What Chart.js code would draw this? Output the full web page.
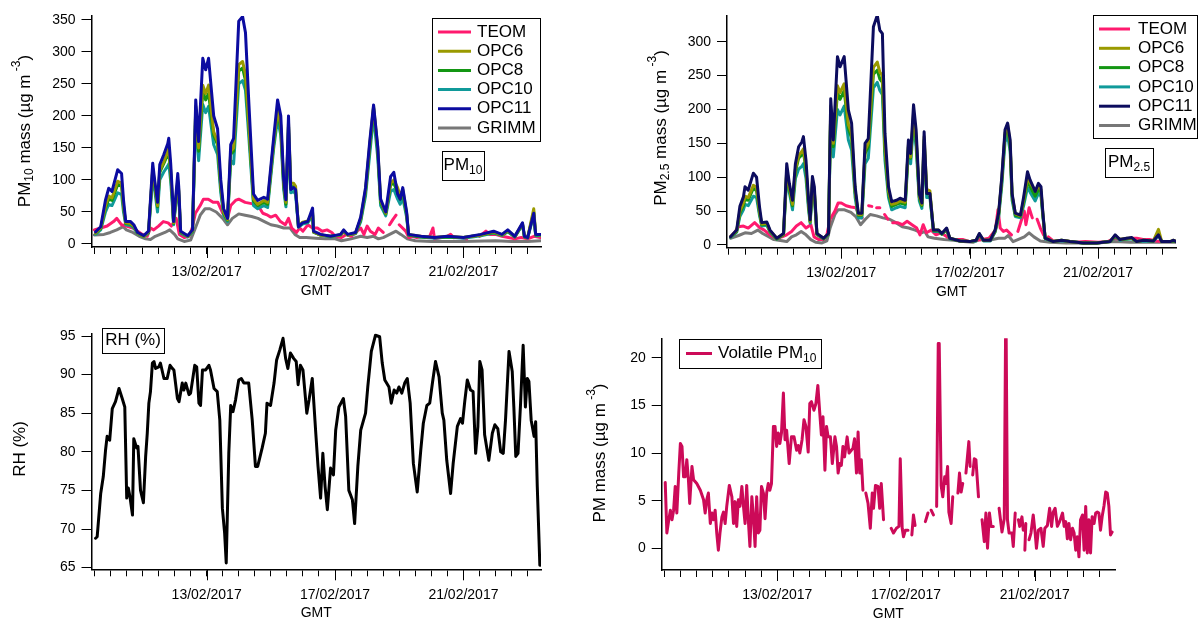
<!DOCTYPE html>
<html>
<head>
<meta charset="utf-8">
<script src="https://cdn.jsdelivr.net/npm/chart.js@4.4.0/dist/chart.umd.min.js"></script>
<style>
  html, body { margin: 0; padding: 0; background: #fff; }
  #wrap { position: relative; width: 1198px; height: 619px; overflow: hidden; }
  canvas { position: absolute; left: 0; top: 0; }
</style>
</head>
<body>
<div id="wrap">
  <canvas id="pm10" width="1198" height="619"></canvas>
  <canvas id="pm25" width="1198" height="619"></canvas>
  <canvas id="rh" width="1198" height="619"></canvas>
  <canvas id="vol" width="1198" height="619"></canvas>
</div>
<script>
'use strict';

// x values are days of February 2017 (GMT)
const dateTicks = [13, 17, 21];
const dateLabels = ['13/02/2017', '17/02/2017', '21/02/2017'];

const pm10Ticks = [0, 50, 100, 150, 200, 250, 300, 350];
const pm25Ticks = [0, 50, 100, 150, 200, 250, 300];
const rhTicks = [65, 70, 75, 80, 85, 90, 95];
const volTicks = [0, 5, 10, 15, 20];

// ---- PM10 ----
const pm10Time = [
  9.54, 9.70, 9.85, 9.95, 10.05, 10.23, 10.35, 10.41, 10.48, 10.63,
  10.73, 10.85, 11.04, 11.19, 11.32, 11.38, 11.47, 11.54, 11.66, 11.79,
  11.82, 11.88, 11.94, 11.97, 12.10, 12.13, 12.19, 12.41, 12.56, 12.66,
  12.75, 12.88, 12.97, 13.06, 13.22, 13.34, 13.44, 13.53, 13.65, 13.75,
  13.84, 14.00, 14.12, 14.21, 14.31, 14.46, 14.59, 14.78, 14.90, 15.09,
  15.21, 15.31, 15.40, 15.47, 15.55, 15.62, 15.71, 15.77, 15.86, 15.99,
  16.15, 16.30, 16.33, 16.55, 16.86, 17.17, 17.27, 17.39, 17.64, 17.80,
  17.95, 18.08, 18.20, 18.33, 18.42, 18.58, 18.73, 18.83, 18.95, 19.03,
  19.11, 19.23, 19.29, 19.67, 20.10, 20.51, 21.00, 21.54, 21.94, 22.20,
  22.38, 22.60, 22.84, 22.90, 23.00, 23.19, 23.25, 23.40
];
const pm10Opc11 = [
  19, 27, 69, 87, 82, 116, 110, 69, 35, 35,
  30, 18, 13, 20, 126, 100, 65, 124, 139, 157,
  165, 126, 70, 35, 110, 90, 20, 13, 22, 225,
  160, 290, 272, 290, 200, 180, 100, 55, 40, 155,
  165, 348, 355, 330, 225, 78, 68, 73, 70, 167,
  225, 200, 100, 69, 200, 85, 88, 85, 27, 33,
  35, 56, 20, 15, 12, 15, 22, 15, 18, 42,
  88, 160, 217, 152, 70, 50, 105, 112, 78, 70,
  88, 50, 15, 12, 10, 12, 10, 15, 20, 15,
  22, 12, 33, 12, 10, 48, 15, 15
];
const pm10Opc6 = [
  17, 25, 60, 75, 72, 98, 95, 60, 33, 32,
  28, 17, 12, 19, 118, 95, 60, 115, 128, 145,
  150, 115, 65, 33, 100, 85, 19, 12, 21, 215,
  150, 248, 235, 248, 175, 160, 92, 50, 38, 145,
  150, 280, 285, 265, 190, 70, 62, 68, 65, 160,
  210, 185, 95, 65, 190, 95, 95, 90, 28, 34,
  36, 50, 19, 14, 12, 14, 21, 14, 17, 40,
  85, 155, 215, 150, 68, 48, 95, 100, 88, 75,
  85, 48, 15, 12, 10, 12, 10, 14, 19, 14,
  21, 12, 32, 12, 10, 55, 15, 14
];
const pm10Opc8 = [
  17, 24, 57, 70, 68, 93, 90, 58, 32, 31,
  27, 17, 12, 18, 115, 92, 58, 112, 125, 140,
  145, 110, 62, 32, 97, 82, 18, 12, 20, 210,
  145, 238, 225, 235, 170, 155, 88, 48, 37, 140,
  145, 270, 275, 255, 185, 67, 60, 65, 62, 157,
  205, 180, 92, 62, 185, 88, 90, 85, 27, 33,
  35, 48, 19, 14, 12, 14, 20, 14, 17, 38,
  82, 150, 212, 145, 65, 47, 92, 95, 80, 70,
  80, 46, 14, 11, 10, 11, 10, 14, 18, 14,
  20, 11, 31, 11, 10, 50, 14, 14
];
const pm10Opc10 = [
  15, 22, 50, 62, 60, 80, 77, 50, 30, 29,
  25, 16, 11, 17, 105, 85, 50, 100, 112, 122,
  125, 98, 55, 30, 90, 75, 17, 11, 19, 200,
  130, 218, 205, 215, 155, 140, 80, 45, 35, 130,
  125, 250, 255, 240, 170, 60, 55, 60, 57, 150,
  195, 170, 85, 58, 175, 80, 82, 78, 26, 31,
  33, 45, 18, 14, 11, 14, 20, 14, 16, 35,
  75, 140, 200, 135, 60, 44, 82, 85, 70, 62,
  72, 42, 14, 11, 9, 11, 9, 13, 17, 13,
  19, 11, 30, 11, 9, 45, 13, 13
];
const teom10Time = [
  9.50, 9.70, 9.90, 10.10, 10.20, 10.35, 10.50, 10.70, 10.85, 11.00,
  11.15, 11.25, 11.35, 11.50, 11.65, 11.80, 11.90, 12.05, 12.15, 12.30,
  12.45, 12.55, 12.65, 12.80, 12.90, 13.05, 13.20, 13.35, 13.50, 13.65,
  13.75, 13.90, 14.00, 14.20, 14.40, 14.60, 14.75, 14.90, 15.00, 15.15,
  15.30, 15.45, 15.55, 15.65, 15.80, 15.90, 16.00, 16.15, 16.30, 16.45,
  16.60, 16.75, 16.90, 17.00, 17.20, 17.35, 17.50, 17.65, 17.80, 17.90,
  18.00, 18.10, 18.25, 18.35, 18.50, 18.60, 18.70, 18.80, 18.90, 18.95,
  19.00, 19.20, 19.30, 19.40, 19.55, 19.70, 19.80, 19.95, 20.05, 20.10,
  20.30, 20.40, 20.50, 20.60, 20.70, 20.80, 20.90, 21.10, 21.30, 21.50,
  21.70, 21.80, 22.00, 22.20, 22.40, 22.60, 22.80, 23.00, 23.20, 23.40
];
const teom10 = [
  22, 25, 28, 35, 40, 30, 28, 25, 20, 15,
  12, 25, 22, 28, 35, 33, 28, 40, 15, 10,
  12, 25, 48, 60, 70, 70, 65, 65, 48, 40,
  60, 68, 70, 65, 63, 60, 48, 45, 42, 45,
  35, 30, 40, 25, 18, 25, 20, 30, 25, 25,
  20, 22, 18, 12, 10, 15, 12, 18, 25, 15,
  28, 20, 15, 25, 18, null, 30, 38, 45, null,
  30, 20, 10, 12, 10, 12, 10, 12, 25, 8,
  10, null, 12, 15, 10, null, 10, 8, null, 12,
  20, 15, 15, 12, 10, 8, 10, 8, 12, 10
];
const grimm10Time = [
  9.50, 9.80, 10.00, 10.20, 10.40, 10.50, 10.70, 10.90, 11.10, 11.25,
  11.40, 11.55, 11.70, 11.85, 12.00, 12.10, 12.30, 12.50, 12.65, 12.80,
  12.95, 13.10, 13.30, 13.50, 13.65, 13.80, 14.00, 14.20, 14.40, 14.60,
  14.80, 15.00, 15.20, 15.40, 15.60, 15.75, 15.90, 16.10, 16.40, 16.70,
  17.00, 17.20, 17.50, 17.80, 18.00, 18.20, 18.35, 18.50, 18.70, 18.90,
  19.05, 19.25, 19.50, 20.00, 21.00, 22.00, 22.50, 23.00, 23.40
];
const grimm10 = [
  14, 15, 18, 22, 27, 22, 18, 12, 8, 7,
  12, 15, 18, 22, 15, 8, 4, 6, 25, 45,
  55, 55, 50, 40, 30, 40, 47, 45, 43, 40,
  35, 30, 28, 25, 25, 15, 10, 10, 9, 8,
  8, 5, 8, 12, 10, 12, 8, 10, 15, 20,
  15, 8, 5, 4, 4, 5, 4, 4, 5
];

// ---- PM2.5 ----
const pm25Time = [
  9.55, 9.74, 9.84, 9.95, 10.00, 10.10, 10.26, 10.36, 10.45, 10.52,
  10.68, 10.78, 10.99, 11.20, 11.30, 11.38, 11.48, 11.57, 11.67, 11.77,
  11.82, 11.90, 11.98, 12.03, 12.10, 12.16, 12.24, 12.45, 12.60, 12.67,
  12.75, 12.88, 12.96, 13.09, 13.22, 13.32, 13.43, 13.53, 13.64, 13.74,
  13.84, 14.00, 14.12, 14.20, 14.28, 14.36, 14.47, 14.57, 14.72, 14.83,
  14.99, 15.09, 15.16, 15.25, 15.33, 15.43, 15.51, 15.58, 15.66, 15.76,
  15.87, 16.03, 16.13, 16.28, 16.38, 16.70, 17.00, 17.20, 17.30, 17.43,
  17.64, 17.79, 17.90, 18.00, 18.10, 18.18, 18.26, 18.32, 18.42, 18.58,
  18.68, 18.80, 18.88, 19.04, 19.14, 19.22, 19.28, 19.35, 19.60, 19.86,
  20.12, 20.54, 20.95, 21.37, 21.53, 21.68, 21.89, 22.05, 22.20, 22.41,
  22.72, 22.88, 22.98, 23.24, 23.35, 23.43
];
const pm25Opc11 = [
  12, 22, 57, 71, 86, 81, 106, 100, 57, 33,
  34, 22, 10, 17, 120, 91, 66, 120, 145, 152,
  160, 125, 66, 37, 101, 86, 17, 10, 17, 216,
  155, 278, 263, 278, 199, 180, 86, 47, 47, 150,
  157, 322, 339, 317, 312, 165, 86, 64, 66, 69,
  66, 155, 135, 207, 170, 75, 62, 167, 76, 76,
  22, 22, 17, 25, 10, 6, 5, 7, 17, 7,
  7, 22, 47, 101, 170, 180, 155, 76, 47, 44,
  71, 108, 96, 79, 91, 86, 47, 10, 5, 7,
  5, 3, 3, 5, 15, 8, 10, 11, 5, 7,
  6, 15, 5, 5, 7, 5
];
const pm25Opc6 = [
  12, 21, 50, 62, 72, 70, 88, 85, 50, 31,
  32, 21, 10, 16, 112, 86, 60, 112, 132, 138,
  142, 115, 60, 35, 95, 80, 16, 10, 16, 205,
  150, 235, 225, 238, 178, 165, 80, 45, 45, 140,
  150, 262, 270, 255, 250, 145, 80, 60, 62, 65,
  63, 148, 130, 195, 160, 72, 60, 160, 82, 80,
  22, 22, 17, 24, 10, 6, 5, 7, 16, 7,
  7, 21, 45, 98, 165, 178, 150, 74, 46, 43,
  66, 100, 92, 80, 86, 82, 45, 10, 5, 7,
  5, 3, 3, 5, 14, 8, 10, 10, 5, 7,
  6, 23, 5, 5, 7, 5
];
const pm25Opc8 = [
  12, 20, 47, 58, 68, 66, 84, 80, 48, 30,
  31, 20, 9, 15, 108, 83, 58, 108, 128, 133,
  138, 110, 58, 34, 92, 78, 16, 9, 16, 200,
  145, 225, 215, 228, 172, 158, 78, 44, 44, 135,
  145, 252, 258, 245, 240, 138, 76, 57, 60, 62,
  60, 145, 128, 190, 155, 70, 58, 155, 76, 75,
  21, 21, 16, 23, 10, 6, 5, 7, 15, 7,
  7, 20, 44, 95, 162, 172, 146, 72, 44, 42,
  63, 95, 86, 72, 82, 78, 44, 10, 5, 7,
  5, 3, 3, 5, 13, 8, 9, 10, 5, 7,
  6, 17, 5, 5, 6, 5
];
const pm25Opc10 = [
  11, 19, 42, 52, 60, 58, 72, 70, 44, 28,
  29, 19, 9, 15, 100, 78, 52, 98, 112, 116,
  120, 98, 52, 32, 85, 72, 15, 9, 15, 190,
  130, 200, 192, 205, 155, 140, 70, 40, 40, 120,
  128, 232, 240, 228, 222, 125, 70, 52, 55, 57,
  55, 138, 120, 180, 145, 65, 54, 148, 70, 70,
  20, 20, 16, 22, 9, 6, 5, 6, 15, 6,
  6, 19, 40, 88, 152, 162, 138, 66, 42, 40,
  58, 85, 78, 65, 76, 72, 42, 9, 5, 6,
  5, 3, 3, 5, 12, 7, 9, 9, 5, 6,
  5, 14, 5, 5, 6, 5
];
const teom25Time = [
  9.55, 9.70, 9.80, 9.95, 10.10, 10.30, 10.45, 10.60, 10.80, 11.00,
  11.15, 11.30, 11.45, 11.60, 11.75, 11.90, 12.05, 12.15, 12.30, 12.45,
  12.55, 12.65, 12.80, 12.90, 13.00, 13.15, 13.30, 13.45, 13.55, 13.65,
  13.75, 13.85, 13.95, 14.00, 14.10, 14.20, 14.25, 14.35, 14.45, 14.50,
  14.60, 14.75, 14.90, 15.05, 15.20, 15.35, 15.45, 15.55, 15.65, 15.80,
  15.95, 16.10, 16.30, 16.50, 16.80, 17.00, 17.20, 17.40, 17.60, 17.80,
  17.88, 17.95, 18.05, 18.15, 18.30, 18.40, 18.50, 18.60, 18.70, 18.75,
  18.85, 18.95, 19.05, 19.10, 19.20, 19.30, 19.40, 19.45, 19.60, 19.80,
  20.00, 20.30, 20.60, 21.00, 21.30, 21.50, 21.70, 22.00, 22.20, 22.40,
  22.60, 22.80, 23.00, 23.20, 23.43
];
const teom25 = [
  12, 20, 27, 28, 25, 33, 26, 22, 14, 10,
  12, 15, 20, 28, 33, 25, 30, 12, 8, 8,
  15, 38, 50, 62, 62, 58, 56, 55, 45, 40,
  null, 58, 57, null, 55, 55, null, 45, 38, null,
  33, 33, 30, 35, 30, 25, 15, 30, 18, 22,
  15, 18, 12, 8, 8, 5, 7, 8, 10, 22,
  52, 25, 20, 22, 15, null, 20, 35, 50, 30,
  55, 40, null, 38, 25, 15, null, 12, 6, 5,
  6, 4, 5, 4, 5, 10, 8, 10, 10, 8,
  8, 6, 5, 5, 5
];
const grimm25Time = [
  9.55, 9.80, 10.00, 10.20, 10.40, 10.55, 10.75, 10.90, 11.20, 11.30,
  11.45, 11.60, 11.75, 11.90, 12.05, 12.20, 12.40, 12.55, 12.65, 12.80,
  12.90, 13.10, 13.30, 13.45, 13.60, 13.75, 13.90, 14.10, 14.30, 14.50,
  14.70, 14.90, 15.10, 15.30, 15.50, 15.60, 15.70, 15.90, 16.20, 16.50,
  16.80, 17.10, 17.30, 17.60, 17.90, 18.10, 18.20, 18.35, 18.50, 18.70,
  18.85, 19.00, 19.20, 19.50, 20.00, 21.00, 21.50, 22.00, 23.00, 23.43
];
const grimm25 = [
  10, 14, 18, 17, 22, 17, 12, 8, 6, 5,
  12, 15, 20, 15, 8, 4, 3, 6, 25, 45,
  52, 52, 48, 42, 30, 38, 45, 43, 40, 38,
  33, 27, 25, 22, 18, 20, 12, 10, 8, 7,
  5, 4, 8, 7, 10, 10, 14, 5, 8, 12,
  18, 12, 6, 4, 3, 3, 5, 4, 4, 4
];

// ---- RH ----
const rhTime = [
  9.54, 9.59, 9.70, 9.78, 9.85, 9.90, 9.98, 10.06, 10.16, 10.27,
  10.37, 10.45, 10.51, 10.56, 10.61, 10.69, 10.73, 10.82, 10.86, 10.94,
  11.03, 11.10, 11.15, 11.20, 11.25, 11.31, 11.36, 11.41, 11.51, 11.56,
  11.67, 11.77, 11.86, 11.93, 11.98, 12.09, 12.14, 12.24, 12.29, 12.35,
  12.45, 12.50, 12.63, 12.69, 12.76, 12.81, 12.87, 12.97, 13.07, 13.12,
  13.23, 13.33, 13.41, 13.49, 13.56, 13.61, 13.69, 13.75, 13.82, 13.90,
  14.00, 14.08, 14.16, 14.31, 14.42, 14.52, 14.59, 14.73, 14.83, 14.88,
  14.99, 15.10, 15.18, 15.28, 15.38, 15.46, 15.53, 15.61, 15.71, 15.79,
  15.85, 15.92, 16.00, 16.12, 16.19, 16.29, 16.40, 16.47, 16.55, 16.62,
  16.69, 16.76, 16.86, 16.95, 17.02, 17.12, 17.26, 17.33, 17.43, 17.54,
  17.61, 17.71, 17.80, 17.95, 18.02, 18.13, 18.26, 18.39, 18.47, 18.55,
  18.68, 18.75, 18.84, 18.92, 18.99, 19.08, 19.17, 19.25, 19.34, 19.44,
  19.56, 19.67, 19.75, 19.86, 19.95, 20.04, 20.13, 20.24, 20.34, 20.39,
  20.48, 20.60, 20.68, 20.81, 20.91, 20.97, 21.04, 21.12, 21.22, 21.30,
  21.38, 21.45, 21.51, 21.58, 21.66, 21.79, 21.90, 21.98, 22.07, 22.16,
  22.24, 22.31, 22.42, 22.52, 22.57, 22.63, 22.70, 22.78, 22.86, 22.93,
  22.99, 23.04, 23.11, 23.20, 23.25, 23.30, 23.38
];
const rhValue = [
  68.8, 69, 74.6, 76.8, 80.2, 82, 81.5, 85.6, 86.5, 88.2,
  86.9, 85.8, 74, 75.3, 74.2, 71.8, 81.7, 80.5, 80.7, 75,
  73.4, 79.4, 82.4, 86.3, 87.8, 91.5, 91.7, 90.8, 91, 91.5,
  89.5, 89.5, 91.2, 90.8, 90.6, 86.9, 86.5, 88.9, 88, 88.9,
  87.4, 87.6, 91.2, 91, 86.3, 86, 90.6, 90.6, 91.2, 90.6,
  88.2, 87.8, 84.1, 72.7, 69.5, 65.6, 79.8, 86, 85.2, 86.7,
  89.3, 89.5, 88.9, 88.9, 84.1, 78.1, 78.1, 80.5, 82.4, 86.3,
  86, 88.9, 91.9, 93.2, 94.7, 92.1, 90.8, 92.8, 92.1, 91.7,
  88.7, 91.2, 90.6, 85, 86.7, 89.5, 82.4, 78.1, 74, 79.8,
  75.5, 72.5, 77.9, 77, 82.8, 85.8, 86.9, 84.6, 75, 73.8,
  70.7, 78.1, 82.8, 85, 88.4, 93, 95.1, 94.9, 91.5, 89.3,
  88.4, 86.3, 88, 87.6, 88.4, 87.6, 88.9, 89.5, 86.3, 78.5,
  74.8, 80.2, 83.7, 86, 86.3, 89.1, 91.7, 89.7, 85, 84.1,
  78.9, 74.6, 78.5, 83.3, 84.3, 83.7, 86.5, 89.3, 88, 87.8,
  79.8, 83.3, 91.7, 90.6, 82.2, 78.9, 82.4, 83.5, 83, 80,
  79.8, 84.1, 93, 90.4, 85.8, 79.4, 79.8, 86.3, 93.8, 85.8,
  89.5, 89.1, 84.1, 82, 83.9, 75.5, 65.3
];

// ---- Volatile PM10 ----
const volTime = [
  9.52, 9.57, 9.63, 9.68, 9.73, 9.78, 9.83, 9.88, 9.94, 9.99,
  10.04, 10.09, 10.14, 10.19, 10.24, 10.28, 10.35, 10.40, 10.50, 10.61,
  10.71, 10.76, 10.81, 10.86, 10.92, 10.97, 11.02, 11.07, 11.12, 11.17,
  11.22, 11.28, 11.33, 11.38, 11.43, 11.51, 11.59, 11.64, 11.69, 11.74,
  11.79, 11.84, 11.90, 11.95, 12.00, 12.05, 12.10, 12.15, 12.21, 12.26,
  12.31, 12.36, 12.41, 12.46, 12.51, 12.57, 12.62, 12.67, 12.72, 12.77,
  12.82, 12.88, 12.93, 12.98, 13.03, 13.08, 13.13, 13.19, 13.24, 13.29,
  13.37, 13.44, 13.52, 13.60, 13.65, 13.70, 13.77, 13.83, 13.89, 13.96,
  14.01, 14.06, 14.14, 14.20, 14.26, 14.32, 14.37, 14.42, 14.48, 14.53,
  14.58, 14.65, 14.71, 14.79, 14.84, 14.89, 14.94, 14.99, 15.04, 15.09,
  15.17, 15.23, 15.30, 15.35, 15.40, 15.46, 15.51, 15.56, 15.61, 15.66,
  15.70, 15.75, 15.82, 15.89, 15.95, 15.99, 16.05, 16.13, 16.18, 16.23,
  16.30, 16.42, 16.54, 16.61, 16.70, 16.78, 16.82, 16.88, 16.92, 16.98,
  17.06, 17.11, 17.18, 17.23, 17.28, 17.44, 17.60, 17.68, 17.73, 17.78,
  17.85, 17.90, 17.95, 18.00, 18.03, 18.09, 18.14, 18.20, 18.24, 18.29,
  18.33, 18.40, 18.45, 18.53, 18.61, 18.66, 18.71, 18.76, 18.81, 18.86,
  18.95, 18.99, 19.03, 19.07, 19.12, 19.17, 19.25, 19.30, 19.36, 19.43,
  19.48, 19.53, 19.59, 19.64, 19.71, 19.80, 19.89, 19.98, 20.05, 20.09,
  20.11, 20.15, 20.20, 20.29, 20.33, 20.39, 20.44, 20.49, 20.53, 20.60,
  20.64, 20.67, 20.69, 20.72, 20.77, 20.82, 20.88, 20.95, 21.01, 21.05,
  21.11, 21.19, 21.26, 21.31, 21.39, 21.46, 21.52, 21.57, 21.63, 21.70,
  21.77, 21.86, 21.91, 21.96, 22.01, 22.06, 22.11, 22.17, 22.22, 22.27,
  22.32, 22.37, 22.42, 22.48, 22.53, 22.58, 22.63, 22.68, 22.73, 22.78,
  22.84, 22.89, 22.94, 22.99, 23.04, 23.09, 23.15, 23.20, 23.25, 23.30,
  23.35, 23.40
];
const volValue = [
  6.9, 1.6, 3.0, 4.0, 3.0, 4.0, 6.5, 3.7, 7.9, 11.0,
  10.7, 7.5, 7.5, 9.3, 7.2, 4.7, 8.6, 7.2, 6.8, 6.1,
  5.1, 3.7, 5.1, 5.8, 2.6, 3.7, 3.0, 4.0, 1.6, -0.2,
  1.6, 3.3, 3.8, 2.6, 4.4, 6.6, 5.4, 2.6, 4.9, 2.3,
  5.1, 4.4, 6.5, 4.4, 2.6, 6.6, 3.0, 0.2, 5.4, 3.3,
  0.2, 5.4, 1.6, 1.9, 6.5, 5.8, 3.1, 5.8, 6.8, 6.1,
  6.8, 12.8, 12.8, 10.7, 12.1, 11.0, 12.1, 16.3, 11.4, 12.4,
  8.9, 11.7, 11.7, 10.3, 10.8, 10.0, 11.4, 13.5, 12.8, 10.1,
  15.2, 15.4, 14.5, 15.2, 17.1, 14.2, 11.9, 13.8, 8.2, 12.8,
  11.7, 11.7, 8.9, 11.7, 10.7, 7.9, 8.9, 8.7, 10.7, 9.6,
  11.7, 10.0, 10.3, 10.5, 11.5, 7.9, 12.2, 7.9, 9.3, 6.1,
  null, 5.8, 4.7, 2.1, 5.8, 4.2, 6.6, 6.5, 4.2, 6.8,
  3.0, null, 2.1, 1.6, 2.1, 2.3, 9.4, 2.1, 1.2, 1.9,
  1.9, null, 1.4, 3.5, 2.4, null, 2.8, 3.7, null, 4.0,
  3.5, null, 4.4, 21.5, 21.5, 6.6, 5.4, 7.5, 6.8, 8.6,
  3.8, 2.6, 5.4, null, 5.8, 7.9, 5.9, 6.8, null, 7.9,
  11.2, 8.6, null, 7.7, 9.4, 9.3, 5.4, null, 3.0, 0.7,
  3.7, 0.0, 3.7, 2.3, 2.3, null, 4.2, 1.7, 3.1, 22.0,
  22.0, 3.0, 1.6, 1.6, 0.2, 3.7, null, 3.0, 2.3, 3.3,
  1.9, null, -0.2, 2.6, null, 0.9, 1.6, 3.5, 1.6, 0.0,
  1.9, 2.1, 0.2, 2.1, 2.4, 4.2, 2.3, 3.8, 4.2, 2.3,
  2.8, 3.7, 2.3, 2.8, 1.0, 2.6, 0.9, 2.1, 1.6, -0.2,
  1.2, -0.9, 3.0, 3.5, -0.2, 4.4, -0.5, 3.0, -0.5, 3.3,
  2.6, 3.7, 3.8, 3.7, 1.9, 3.3, 4.5, 5.9, 5.8, 4.4,
  1.4, 1.7
];

const COLORS = {
  teom: '#ff1a6e', opc6: '#9a9a00', opc8: '#139613', opc10: '#109a9a',
  opc11: '#0b0ba0', opc11dark: '#0c0c5e', grimm: '#777777', rh: '#000000', vol: '#cc0a58'
};
const FONT = '"Liberation Sans", Arial, Helvetica, sans-serif';
Chart.defaults.font.family = FONT;
Chart.defaults.color = '#000';

const W = 1198, H = 619, Y_BOX = 70, X_BOX = 45;

let pts = (xs, ys) => xs.map((x, i) => ({x: x, y: ys[i] === undefined ? null : ys[i]}));

let line = (label, xs, ys, color, order) => ({
    label: label, data: pts(xs, ys), borderColor: color, backgroundColor: color,
    borderWidth: 3, pointRadius: 0, tension: 0, spanGaps: false, order: order,
    borderJoinStyle: 'round', borderCapStyle: 'round'
});

// text with sub/superscript runs, centred on (cx, cy)
function rich(ctx, parts, cx, cy, size, vertical, alignLeft) {
    let small = Math.round(size * 0.68);
    let total = 0;
    let runs = parts.map(([t, k]) => {
        ctx.font = (k ? small : size) + 'px ' + FONT;
        let w = ctx.measureText(t).width;
        total += w;
        return {t, k, w};
    });
    ctx.save();
    ctx.translate(cx, cy);
    if (vertical) ctx.rotate(-Math.PI / 2);
    ctx.fillStyle = '#000';
    ctx.textBaseline = 'middle';
    ctx.textAlign = 'left';
    let x = alignLeft ? 0 : -total / 2;
    for (let r of runs) {
        ctx.font = (r.k ? small : size) + 'px ' + FONT;
        let dy = r.k === 'sub' ? size * 0.3 : r.k === 'sup' ? -size * 0.5 : 0;
        ctx.fillText(r.t, x, dy);
        x += r.w;
    }
    ctx.restore();
}

function frame(ctx, x, y, w, h) {
    ctx.strokeStyle = '#000';
    ctx.lineWidth = 1;
    ctx.strokeRect(Math.round(x) + 0.5, Math.round(y) + 0.5, Math.round(w), Math.round(h));
}

function decor(cfg) {
    return {
        id: 'decor',
        afterDraw(chart) {
            let ctx = chart.ctx, xs = chart.scales.x, area = chart.chartArea;
            ctx.save();
            // longer ticks at labelled dates
            ctx.strokeStyle = '#000';
            ctx.lineWidth = 1;
            for (let v of dateTicks) {
                let px = Math.round(xs.getPixelForValue(v)) + 0.5;
                ctx.beginPath();
                ctx.moveTo(px, area.bottom);
                ctx.lineTo(px, area.bottom + 11);
                ctx.stroke();
            }
            rich(ctx, cfg.yTitle, cfg.yTitleX, cfg.yTitleY, 17, true);
            rich(ctx, [['GMT']], (area.left + area.right) / 2, area.bottom + 44, 14, false);

            if (cfg.legend) {
                let L = cfg.legend;
                ctx.fillStyle = '#fff';
                ctx.fillRect(L.x, L.y, L.w, L.h);
                frame(ctx, L.x, L.y, L.w, L.h);
                L.items.forEach((ds, i) => {
                    let y = L.row0 + i * L.dy;
                    ctx.strokeStyle = ds.borderColor;
                    ctx.lineWidth = 3;
                    ctx.beginPath();
                    ctx.moveTo(L.lx0, y);
                    ctx.lineTo(L.lx1, y);
                    ctx.stroke();
                    rich(ctx, ds.rich || [[ds.label]], L.tx, y, 17, false, true);
                });
            }
            if (cfg.tag) {
                let T = cfg.tag;
                ctx.fillStyle = '#fff';
                ctx.fillRect(T.x, T.y, T.w, T.h);
                frame(ctx, T.x, T.y, T.w, T.h);
                rich(ctx, T.text, T.x + T.w / 2, T.y + T.h / 2, 17, false);
            }
            ctx.restore();
        }
    };
}

function makeChart(id, box, datasets, yTicks, cfg) {
    let halfDays = [];
    for (let d = 9.5; d <= box.xmax; d += 0.5) halfDays.push(d);
    return new Chart(document.getElementById(id), {
        type: 'line',
        data: {datasets: datasets},
        options: {
            responsive: false,
            animation: false,
            devicePixelRatio: 1,
            layout: {
                autoPadding: false,
                padding: {left: box.left - Y_BOX, right: W - box.right, top: box.top, bottom: H - box.bottom - X_BOX}
            },
            plugins: {legend: {display: false}, tooltip: {enabled: false}},
            scales: {
                x: {
                    type: 'linear', min: box.xmin, max: box.xmax,
                    afterFit: (s) => { s.height = X_BOX; },
                    afterBuildTicks: (s) => { s.ticks = halfDays.map((v) => ({value: v})); },
                    grid: {display: true, drawOnChartArea: false, drawTicks: true, tickLength: 7, color: '#000', lineWidth: 1},
                    border: {display: true, color: '#000', width: 1.5},
                    ticks: {
                        autoSkip: false, maxRotation: 0, minRotation: 0, padding: 10,
                        font: {size: 14}, color: '#000',
                        callback: (v) => {
                            let i = dateTicks.indexOf(Math.round(v * 100) / 100);
                            return i >= 0 ? dateLabels[i] : '';
                        }
                    }
                },
                y: {
                    type: 'linear', min: box.ymin, max: box.ymax,
                    afterFit: (s) => { s.width = Y_BOX; },
                    afterBuildTicks: (s) => { s.ticks = yTicks.map((v) => ({value: v})); },
                    grid: {display: true, drawOnChartArea: false, drawTicks: true, tickLength: 10, color: '#000', lineWidth: 1},
                    border: {display: true, color: '#000', width: 1.5},
                    ticks: {padding: 6, font: {size: 14}, color: '#000'}
                }
            }
        },
        plugins: [decor(cfg)]
    });
}

// ---- panel 1: PM10 ----
let p1 = [
    line('TEOM', teom10Time, teom10, COLORS.teom, 5),
    line('OPC6', pm10Time, pm10Opc6, COLORS.opc6, 2),
    line('OPC8', pm10Time, pm10Opc8, COLORS.opc8, 3),
    line('OPC10', pm10Time, pm10Opc10, COLORS.opc10, 4),
    line('OPC11', pm10Time, pm10Opc11, COLORS.opc11, 1),
    line('GRIMM', grimm10Time, grimm10, COLORS.grimm, 6)
];
makeChart('pm10', {left: 91.5, right: 541, top: 16, bottom: 247, xmin: 9.413, xmax: 23.416, ymin: -4.7, ymax: 356},
    p1, pm10Ticks, {
        yTitle: [['PM'], ['10', 'sub'], [' mass (µg m'], [' -3', 'sup'], [')']],
        yTitleX: 25, yTitleY: 131,
        legend: {x: 432, y: 18, w: 108, h: 123, row0: 32, dy: 19.2, lx0: 438, lx1: 471, tx: 477, items: p1},
        tag: {x: 442, y: 151, w: 42, h: 29, text: [['PM'], ['10', 'sub']]}
    });

// ---- panel 2: PM2.5 ----
let p2 = [
    line('TEOM', teom25Time, teom25, COLORS.teom, 5),
    line('OPC6', pm25Time, pm25Opc6, COLORS.opc6, 2),
    line('OPC8', pm25Time, pm25Opc8, COLORS.opc8, 3),
    line('OPC10', pm25Time, pm25Opc10, COLORS.opc10, 4),
    line('OPC11', pm25Time, pm25Opc11, COLORS.opc11dark, 1),
    line('GRIMM', grimm25Time, grimm25, COLORS.grimm, 6)
];
makeChart('pm25', {left: 727, right: 1176, top: 16, bottom: 247.7, xmin: 9.439, xmax: 23.426, ymin: -4, ymax: 338},
    p2, pm25Ticks, {
        yTitle: [['PM'], ['2.5', 'sub'], [' mass (µg m'], [' -3', 'sup'], [')']],
        yTitleX: 661, yTitleY: 128,
        legend: {x: 1093, y: 15, w: 104, h: 123, row0: 29, dy: 19.3, lx0: 1099, lx1: 1130, tx: 1138, items: p2},
        tag: {x: 1105, y: 148, w: 48, h: 29, text: [['PM'], ['2.5', 'sub']]}
    });

// ---- panel 3: RH ----
makeChart('rh', {left: 91.5, right: 541, top: 333.3, bottom: 569.3, xmin: 9.413, xmax: 23.416, ymin: 64.78, ymax: 95.35},
    [line('RH', rhTime, rhValue, COLORS.rh, 1)], rhTicks, {
        yTitle: [['RH (%)']],
        yTitleX: 20, yTitleY: 449,
        tag: {x: 102, y: 328, w: 62, h: 25, text: [['RH (%)']]}
    });

// ---- panel 4: volatile PM10 ----
let p4 = [line('Volatile PM10', volTime, volValue, COLORS.vol, 1)];
p4[0].rich = [['Volatile PM'], ['10', 'sub']];
makeChart('vol', {left: 661.7, right: 1115, top: 338.3, bottom: 570, xmin: 9.41, xmax: 23.49, ymin: -2.28, ymax: 22.05},
    p4, volTicks, {
        yTitle: [['PM mass (µg m'], [' -3', 'sup'], [')']],
        yTitleX: 600, yTitleY: 453,
        legend: {x: 679, y: 339, w: 142, h: 29, row0: 353.5, dy: 0, lx0: 686, lx1: 712, tx: 718, items: p4}
    });
</script>
</body>
</html>
